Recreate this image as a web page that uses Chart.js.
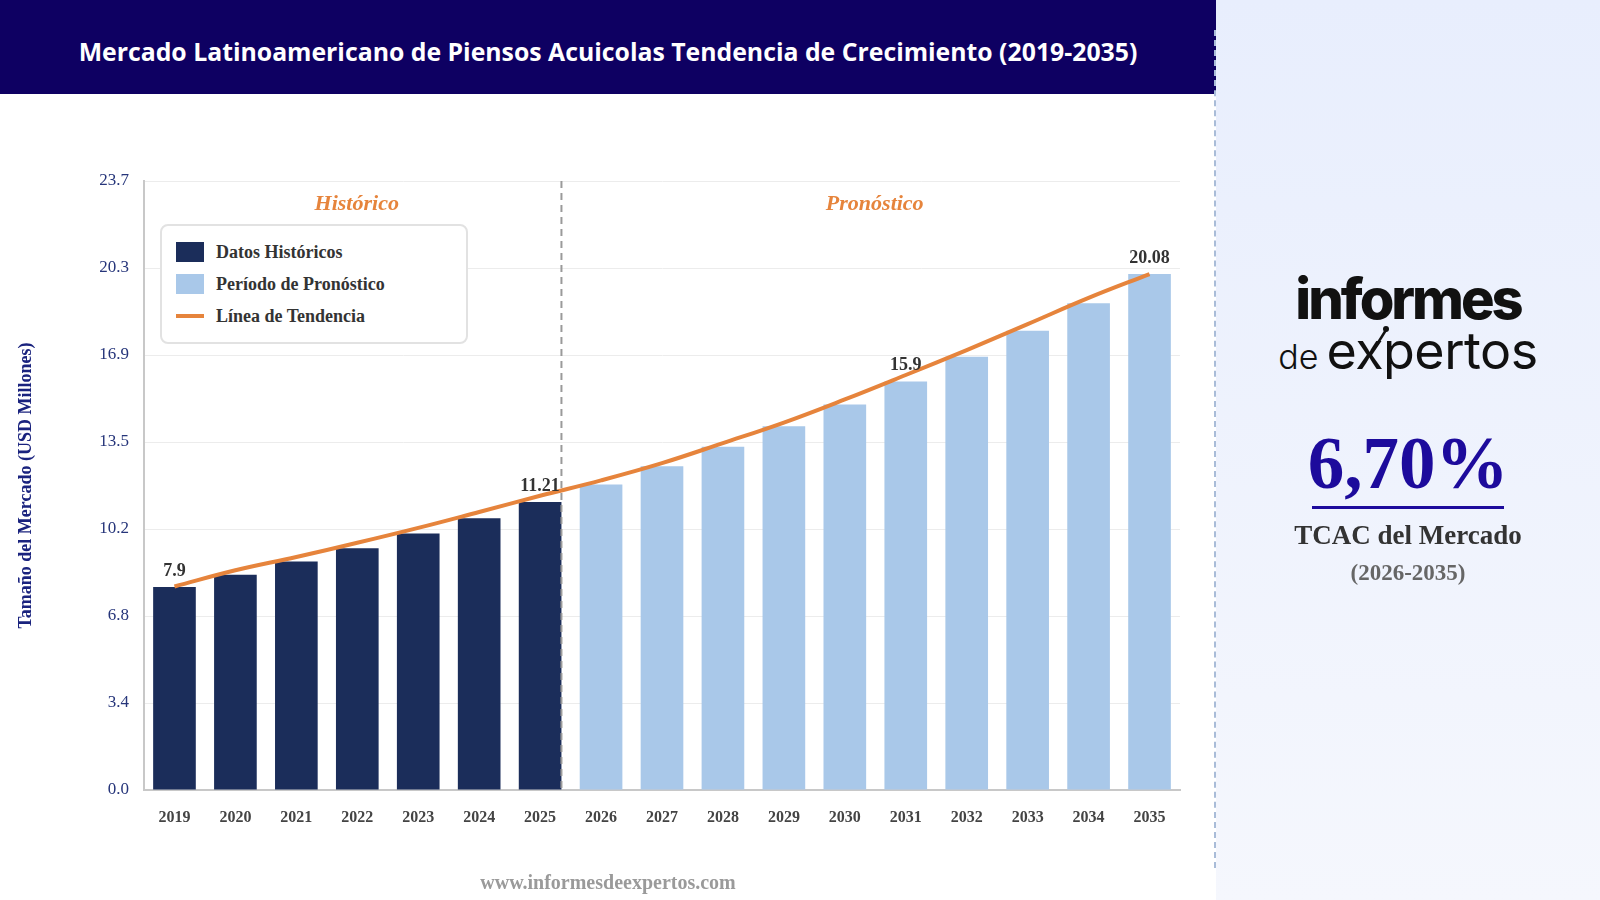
<!DOCTYPE html>
<html lang="es">
<head>
<meta charset="utf-8">
<title>Mercado Latinoamericano de Piensos Acuicolas</title>
<script src="https://cdn.jsdelivr.net/npm/chart.js"></script>
<style>
  html, body { margin: 0; padding: 0; }
  body { width: 1600px; height: 900px; position: relative; overflow: hidden; background: #fff; font-family: 'Liberation Serif', 'Times New Roman', serif; }
  #header { position: absolute; left: 0; top: 0; width: 1216px; height: 94px; box-sizing: border-box; padding-top: 8px; background: #0e0062; color: #fff;
    font-family: 'Open Sans', sans-serif; font-weight: 700; font-size: 24.8px; display: flex; align-items: center; justify-content: center; }
  #side { position: absolute; left: 1216px; top: 0; width: 384px; height: 900px; background: linear-gradient(#e8eefd, #f5f7fd); }
  #divider { position: absolute; left: 1214px; top: 30px; height: 838px; border-left: 2px dashed #a9bcd8; }
  #chartBox { position: absolute; left: 0; top: 94px; width: 1214px; height: 806px; }
  #legend { position: absolute; left: 160px; top: 224px; width: 308px; height: 120px; box-sizing: border-box; background: #fff;
    border: 2px solid #e2e2e2; border-radius: 8px; padding-top: 10px; }
  .item { height: 32px; display: flex; align-items: center; padding-left: 14px; font-weight: 700; font-size: 18px; color: #333; }
  .sw { width: 28px; height: 20px; margin-right: 12px; }
  .sw.line { height: 4px; }
  #footer { position: absolute; left: 0; width: 1216px; top: 871px; text-align: center; font-weight: 700; font-size: 20px; color: #9a9a9a; }
  .logo1 { position: absolute; left: 1216px; width: 384px; top: 264px; text-align: center; font-family: Inter, sans-serif; font-weight: 800;
    font-size: 56px; letter-spacing: -3px; color: #111; line-height: 70px; }
  .logo2 { position: absolute; left: 1216px; width: 384px; top: 316px; text-align: center; font-family: Inter, sans-serif; color: #111; line-height: 70px; }
  .logo2 .de { font-weight: 300; font-size: 34px; margin-right: 8px; }
  .logo2 .ex { font-weight: 400; font-size: 52px; letter-spacing: -0.5px; }
  #mark { position: absolute; left: 0; top: 0; }
  #cagr { position: absolute; left: 1216px; width: 384px; top: 421px; text-align: center; font-weight: 700; font-size: 73px; color: #1d0b9c; line-height: 86px; }
  #uline { position: absolute; left: 1312px; width: 192px; top: 506px; height: 3px; background: #1d0b9c; }
  #cagrLabel { position: absolute; left: 1216px; width: 384px; top: 520px; text-align: center; font-weight: 700; font-size: 27px; color: #333; }
  #cagrYears { position: absolute; left: 1216px; width: 384px; top: 560px; text-align: center; font-weight: 700; font-size: 23px; color: #666; }
</style>
</head>
<body>
<div id="header">Mercado Latinoamericano de Piensos Acuicolas Tendencia de Crecimiento (2019-2035)</div>
<div id="side"></div>
<div id="divider"></div>
<div id="chartBox"><canvas id="myChart" width="1214" height="806"></canvas></div>
<div id="legend"></div>
<div id="footer">www.informesdeexpertos.com</div>
<div class="logo1">informes</div>
<div class="logo2"><span class="de">de</span><span class="ex">expertos</span></div>
<svg id="mark" width="1600" height="900"><line x1="1374" y1="349" x2="1386" y2="330" stroke="#111" stroke-width="2.5"/><circle cx="1386" cy="329" r="3" fill="#111"/></svg>
<div id="cagr">6,70%</div>
<div id="uline"></div>
<div id="cagrLabel">TCAC del Mercado</div>
<div id="cagrYears">(2026-2035)</div>

<script>
var years = ['2019','2020','2021','2022','2023','2024','2025','2026','2027','2028','2029','2030','2031','2032','2033','2034','2035'];
var historicValues = [7.9, 8.38, 8.89, 9.41, 9.98, 10.58, 11.21, null, null, null, null, null, null, null, null, null, null];
var forecastValues = [null, null, null, null, null, null, null, 11.89, 12.6, 13.36, 14.16, 15.0, 15.9, 16.86, 17.87, 18.94, 20.08];
var trendValues = [7.92, 8.55, 9.07, 9.62, 10.2, 10.82, 11.45, 12.05, 12.72, 13.5, 14.3, 15.2, 16.15, 17.12, 18.13, 19.15, 20.08];
var labeledYears = ['2019', '2025', '2031', '2035'];
var yTickLabels = ['0.0', '3.4', '6.8', '10.2', '13.5', '16.9', '20.3', '23.7'];
var yMax = 23.7;

var serif = "'Liberation Serif', 'Times New Roman', serif";
var navy = '#1b2d5a';
var lightBlue = '#a9c8e9';
var orange = '#e6843c';

// dashed split line, period labels and value labels
var extras = {
    id: 'extras',
    afterDatasetsDraw: function(chart) {
        var ctx = chart.ctx;
        var area = chart.chartArea;
        var histMeta = chart.getDatasetMeta(1);
        var foreMeta = chart.getDatasetMeta(2);
        var lastHist = histMeta.data[6];
        var splitX = lastHist.x + lastHist.width / 2;

        ctx.save();
        ctx.strokeStyle = '#9a9a9a';
        ctx.lineWidth = 2;
        ctx.setLineDash([7, 5]);
        ctx.beginPath();
        ctx.moveTo(splitX, area.top);
        ctx.lineTo(splitX, area.bottom);
        ctx.stroke();
        ctx.setLineDash([]);

        ctx.fillStyle = orange;
        ctx.font = 'italic bold 22px ' + serif;
        ctx.textAlign = 'center';
        ctx.textBaseline = 'alphabetic';
        ctx.fillText('Histórico', (area.left + splitX) / 2 + 4, area.top + 29);
        ctx.fillText('Pronóstico', (splitX + area.right) / 2 + 4, area.top + 29);

        ctx.fillStyle = '#333';
        ctx.font = 'bold 18px ' + serif;
        labeledYears.forEach(function(y) {
            var i = years.indexOf(y);
            var isHist = historicValues[i] !== null;
            var bar = (isHist ? histMeta : foreMeta).data[i];
            var v = isHist ? historicValues[i] : forecastValues[i];
            ctx.fillText(String(v), bar.x, bar.y - 11);
        });
        ctx.restore();
    }
};

var ctx = document.getElementById('myChart').getContext('2d');
var myChart = new Chart(ctx, {
    data: {
        labels: years,
        datasets: [
            {
                type: 'line',
                label: 'Línea de Tendencia',
                data: trendValues,
                borderColor: orange,
                backgroundColor: orange,
                borderWidth: 4,
                pointRadius: 0,
                tension: 0.4,
                order: 0
            },
            {
                type: 'bar',
                label: 'Datos Históricos',
                data: historicValues,
                backgroundColor: navy,
                grouped: false,
                barPercentage: 0.7,
                categoryPercentage: 1.0,
                order: 1
            },
            {
                type: 'bar',
                label: 'Período de Pronóstico',
                data: forecastValues,
                backgroundColor: lightBlue,
                grouped: false,
                barPercentage: 0.7,
                categoryPercentage: 1.0,
                order: 1
            }
        ]
    },
    options: {
        responsive: false,
        animation: false,
        layout: {
            padding: { top: 87, right: 34, left: 0, bottom: 0 }
        },
        plugins: {
            legend: { display: false },
            tooltip: { enabled: false }
        },
        scales: {
            x: {
                grid: { display: false, drawTicks: false },
                border: { color: '#c8c8c8', width: 2 },
                ticks: {
                    color: '#444',
                    padding: 18,
                    font: { family: serif, size: 16, weight: 'bold' }
                },
                afterFit: function(scale) { scale.height = 110; }
            },
            y: {
                min: 0,
                max: yMax,
                grid: { color: '#ececec', lineWidth: 1, drawTicks: false },
                border: { color: '#c8c8c8', width: 2 },
                afterBuildTicks: function(scale) {
                    scale.ticks = yTickLabels.map(function(t, i) {
                        return { value: yMax * i / (yTickLabels.length - 1) };
                    });
                },
                ticks: {
                    color: '#26357a',
                    padding: 15,
                    font: { family: serif, size: 17 },
                    callback: function(value, index) { return yTickLabels[index]; }
                },
                title: {
                    display: true,
                    text: 'Tamaño del Mercado (USD Millones)',
                    color: '#1a237e',
                    font: { family: serif, size: 18, weight: 'bold' },
                    padding: { top: 16, bottom: 0 }
                },
                afterFit: function(scale) { scale.width = 144; }
            }
        }
    },
    plugins: [extras]
});

// html legend built from the datasets
var legendOrder = [1, 2, 0];
var legendEl = document.getElementById('legend');
legendOrder.forEach(function(i) {
    var ds = myChart.data.datasets[i];
    var row = document.createElement('div');
    row.className = 'item';
    var sw = document.createElement('span');
    sw.className = ds.type === 'line' ? 'sw line' : 'sw';
    sw.style.background = ds.type === 'line' ? ds.borderColor : ds.backgroundColor;
    row.appendChild(sw);
    row.appendChild(document.createTextNode(ds.label));
    legendEl.appendChild(row);
});
</script>
</body>
</html>
